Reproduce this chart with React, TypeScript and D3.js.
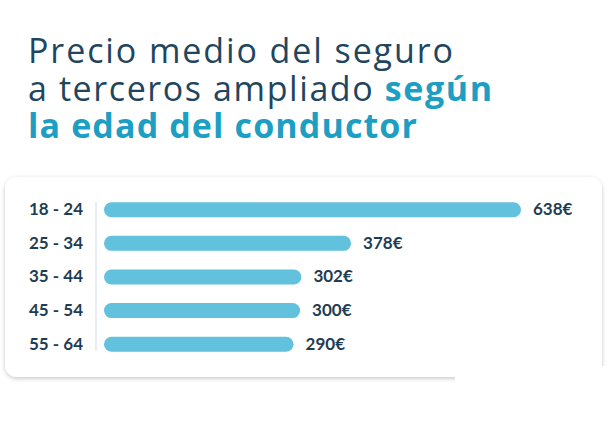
import React from "react";
import * as d3 from "d3";

const ageGroups = ["18 - 24", "25 - 34", "35 - 44", "45 - 54", "55 - 64"];
const prices = [638, 378, 302, 300, 290];
const titleLine1 = "Precio medio del seguro";
const titleLine2a = "a terceros ampliado ";
const titleLine2b = "según";
const titleLine3 = "la edad del conductor";

const W = 609;
const H = 426;
const NAVY = "#1f4660";
const TEAL = "#1c9fc3";
const BAR = "#62c1dd";
const LABEL = "#1f3d52";

export default function App() {
  const x = d3.scaleLinear().domain([0, d3.max(prices) as number]).range([104, 521]);
  const y = d3.scalePoint<string>().domain(ageGroups).range([209.7, 344.2]);
  const barH = 15;
  const font = "'Open Sans', 'DejaVu Sans', sans-serif";

  return (
    <div style={{ position: "absolute", left: 0, top: 0, width: W, height: H, background: "#fff" }}>
      <svg width={W} height={H} style={{ display: "block" }}>
        <defs>
          <filter id="shadow" x="-5%" y="-10%" width="110%" height="125%">
            <feDropShadow dx="0" dy="1.5" stdDeviation="2" floodColor="#000" floodOpacity="0.22" />
          </filter>
        </defs>
        <rect x={0} y={0} width={W} height={H} fill="#fff" />
        <g fontFamily={font} fontSize={34}>
          <text x={28} y={63} fontWeight={500} fill={NAVY} textLength={425} lengthAdjust="spacing">
            {titleLine1}
          </text>
          <text x={28} y={101} fill={NAVY} textLength={464} lengthAdjust="spacing">
            <tspan fontWeight={500}>{titleLine2a}</tspan>
            <tspan fontWeight={700} fill={TEAL}>{titleLine2b}</tspan>
          </text>
          <text x={28} y={138} fontWeight={700} fill={TEAL} textLength={389} lengthAdjust="spacing">
            {titleLine3}
          </text>
        </g>

        <rect x={5} y={177} width={597} height={200} rx={12} ry={12} fill="#fff" filter="url(#shadow)" />

        <line x1={96} x2={96} y1={202} y2={351} stroke="#cfdbe3" strokeWidth={1} />

        <g fontFamily="Lato, 'Open Sans', sans-serif" fontWeight={700} fontSize={17}>
          {ageGroups.map((g, i) => {
            const cy = y(g) as number;
            return (
              <g key={g}>
                <text x={83} y={cy - 1} textAnchor="end" dominantBaseline="central" fill={LABEL}>
                  {g}
                </text>
                <rect
                  x={x(0)}
                  y={cy - barH / 2}
                  width={x(prices[i]) - x(0)}
                  height={barH}
                  rx={barH / 2}
                  ry={barH / 2}
                  fill={BAR}
                />
                <text x={x(prices[i]) + 12} y={cy - 1} dominantBaseline="central" fill={LABEL}>
                  {prices[i]}€
                </text>
              </g>
            );
          })}
        </g>

        <rect x={455} y={366} width={W - 455} height={H - 366} fill="#fff" />
      </svg>
    </div>
  );
}
